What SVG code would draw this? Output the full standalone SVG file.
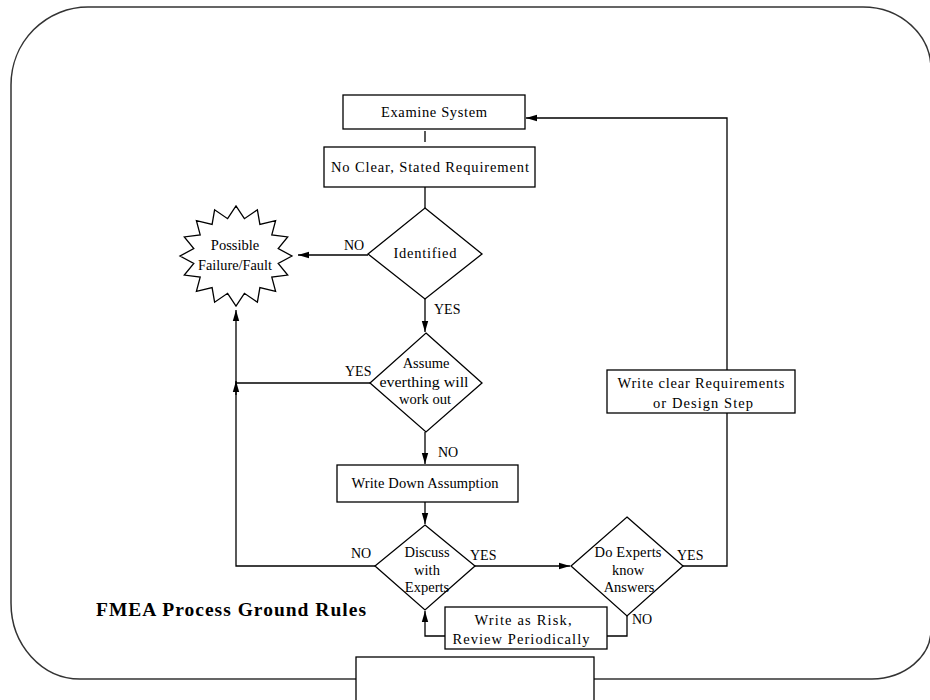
<svg xmlns="http://www.w3.org/2000/svg" width="930" height="700" viewBox="0 0 930 700">
<style>
.shape{fill:#fff;stroke:#000;stroke-width:1.3}
.conn{fill:none;stroke:#000;stroke-width:1.3}
.t{font-family:"Liberation Serif","Times New Roman",serif;font-size:14.5px;fill:#000;text-anchor:middle}
.lbl{font-family:"Liberation Serif","Times New Roman",serif;font-size:14px;fill:#000}
.title{font-family:"Liberation Serif","Times New Roman",serif;font-size:19.5px;font-weight:bold;fill:#000}
</style>
<defs>
<marker id="arr" markerUnits="userSpaceOnUse" markerWidth="12" markerHeight="10" viewBox="0 0 12 10" refX="11" refY="5" orient="auto">
<path d="M0,1.8 L11,5 L0,8.2 Z" fill="#000"/>
</marker>
</defs>
<rect width="930" height="700" fill="#fff"/>
<g id="frame">
<path d="M88,7 H863 A68,62 0 0 1 931,69 V630 A60,49 0 0 1 872,679 H80 A69,76 0 0 1 11,603 V85 A77,78 0 0 1 88,7 Z" fill="none" stroke="#333" stroke-width="1.5"/>
</g>
<g id="connectors">
<line class="conn" x1="425" y1="131" x2="425" y2="142"/>
<line class="conn" x1="425" y1="187" x2="425" y2="208"/>
<line class="conn" x1="368" y1="255" x2="298" y2="255" marker-end="url(#arr)"/>
<line class="conn" x1="425" y1="299" x2="425" y2="332" marker-end="url(#arr)"/>
<line class="conn" x1="370" y1="383" x2="236" y2="383"/>
<line class="conn" x1="236" y1="395" x2="236" y2="381" marker-end="url(#arr)"/>
<polyline class="conn" points="375,566 236,566 236,310" marker-end="url(#arr)"/>
<line class="conn" x1="425" y1="432" x2="425" y2="464" marker-end="url(#arr)"/>
<line class="conn" x1="425" y1="502" x2="425" y2="524" marker-end="url(#arr)"/>
<line class="conn" x1="475" y1="566" x2="570" y2="566" marker-end="url(#arr)"/>
<polyline class="conn" points="627,616 627,636 607,636"/>
<polyline class="conn" points="445,636 425,636 425,611" marker-end="url(#arr)"/>
<polyline class="conn" points="683,566 727,566 727,413"/>
<polyline class="conn" points="727,370 727,118 526,118" marker-end="url(#arr)"/>
</g>
<g id="examine-system">
<rect class="shape" x="343" y="95" width="182" height="34"/>
<text class="t" x="434" y="117" textLength="106" lengthAdjust="spacing">Examine System</text>
</g>
<g id="no-clear-requirement">
<rect class="shape" x="324" y="147" width="211" height="40"/>
<text class="t" x="430" y="172" textLength="198" lengthAdjust="spacing">No Clear, Stated Requirement</text>
</g>
<g id="identified">
<polygon class="shape" points="425,208 482,254 425,299 368,254"/>
<text class="t" x="425" y="258" textLength="63" lengthAdjust="spacing">Identified</text>
</g>
<g id="possible-failure">
<polygon class="shape" points="292,256 278.2,263.4 287.7,275.1 271.8,277.1 275.6,291.4 259.9,287.6 257.4,302.2 244.4,293.3 236,306 227.6,293.3 214.6,302.2 212.1,287.6 196.4,291.4 200.2,277.1 184.3,275.1 193.8,263.4 180,256 193.8,248.6 184.3,236.9 200.2,234.9 196.4,220.6 212.1,224.4 214.6,209.8 227.6,218.7 236,206 244.4,218.7 257.4,209.8 259.9,224.4 275.6,220.6 271.8,234.9 287.7,236.9 278.2,248.6"/>
<text class="t" x="235" y="250" font-size="13.5">Possible</text>
<text class="t" x="235" y="270" font-size="13.5" textLength="74" lengthAdjust="spacingAndGlyphs">Failure/Fault</text>
</g>
<g id="assume">
<polygon class="shape" points="426,333 482,383 426,432 370,383"/>
<text class="t" x="426" y="368" font-size="13.5">Assume</text>
<text class="t" x="424" y="387" font-size="13.5" textLength="89" lengthAdjust="spacingAndGlyphs">everthing will</text>
<text class="t" x="425" y="404" font-size="13.5">work out</text>
</g>
<g id="write-down-assumption">
<rect class="shape" x="337" y="465" width="181" height="37"/>
<text class="t" x="425" y="488" textLength="147" lengthAdjust="spacing">Write Down Assumption</text>
</g>
<g id="discuss-experts">
<polygon class="shape" points="425,525 475,566 425,610 375,566"/>
<text class="t" x="427" y="557" font-size="13.5">Discuss</text>
<text class="t" x="427" y="575" font-size="13.5">with</text>
<text class="t" x="427" y="592" font-size="13.5">Experts</text>
</g>
<g id="do-experts-know">
<polygon class="shape" points="627,517 683,566 627,616 571,566"/>
<text class="t" x="628" y="557" font-size="13.5" textLength="67" lengthAdjust="spacing">Do Experts</text>
<text class="t" x="628" y="575" font-size="13.5">know</text>
<text class="t" x="629" y="592" font-size="13.5">Answers</text>
</g>
<g id="write-as-risk">
<rect class="shape" x="445" y="607" width="162" height="42"/>
<text class="t" x="523" y="625" textLength="97" lengthAdjust="spacing">Write as Risk,</text>
<text class="t" x="521" y="644" textLength="137" lengthAdjust="spacing">Review Periodically</text>
</g>
<g id="write-clear-requirements">
<rect class="shape" x="607" y="370" width="188" height="43"/>
<text class="t" x="701" y="388" textLength="167" lengthAdjust="spacing">Write clear Requirements</text>
<text class="t" x="703" y="408" textLength="100" lengthAdjust="spacing">or Design Step</text>
</g>
<g id="bottom-box">
<rect class="shape" x="356" y="657" width="238" height="60"/>
</g>
<g id="labels">
<text class="lbl" x="344" y="250">NO</text>
<text class="lbl" x="434" y="314">YES</text>
<text class="lbl" x="345" y="376">YES</text>
<text class="lbl" x="438" y="457">NO</text>
<text class="lbl" x="351" y="558">NO</text>
<text class="lbl" x="470" y="560">YES</text>
<text class="lbl" x="677" y="560">YES</text>
<text class="lbl" x="632" y="624">NO</text>
</g>
<g id="title">
<text class="title" x="96" y="616" textLength="270" lengthAdjust="spacing">FMEA Process Ground Rules</text>
</g>
</svg>
